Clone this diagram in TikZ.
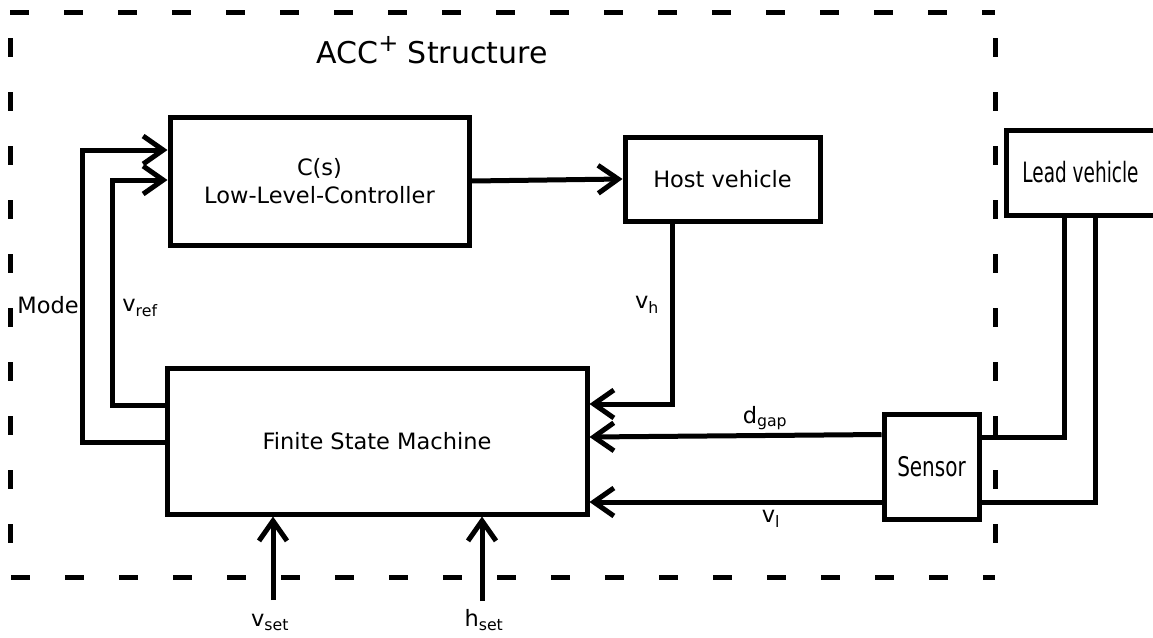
\documentclass[tikz,border=0pt]{standalone}
\usepackage{fontspec}
\setmainfont{DejaVu Sans}
\newfontfamily\leadfont[FakeStretch=0.66]{DejaVu Sans}
\newfontfamily\sensorfont[FakeStretch=0.74]{DejaVu Sans}
\usetikzlibrary{arrows.meta,positioning,calc}
\tikzset{
    % Base block style
    blocknode/.style={
        draw=black,
        fill=white,
        line width=5pt,
        inner sep=0pt,
        align=center,
        font=\fontsize{22.5}{28}\selectfont
    },
    % Blocks outside the structure (narrow lettering)
    leadnode/.style={
        blocknode,
        font=\leadfont\fontsize{28}{30}\selectfont
    },
    sensornode/.style={
        blocknode,
        font=\sensorfont\fontsize{27}{30}\selectfont
    },
    % Signal labels
    siglabel/.style={
        inner sep=1pt,
        font=\fontsize{22.5}{28}\selectfont
    },
    % Signal arrow
    sigarrow/.style={
        -{Straight Barb[length=20pt,width=28pt,line cap=butt,line join=miter]},
        line width=5pt,
        draw=black
    },
    % Plain wire
    wire/.style={
        line width=5pt,
        draw=black
    },
    % Dashed frame
    framebox/.style={
        line width=5pt,
        dash pattern=on 19pt off 35pt
    }
}
\begin{document}
\begin{tikzpicture}[x=1pt,y=-1pt]
        \useasboundingbox (0,0) rectangle (1153,637);

        % Structure frame
        \draw[framebox] (10,12) -- (995,12) (10,38) -- (10,577) -- (995,577) (995,38) -- (995,577);
        \node[font=\fontsize{30}{34}\selectfont] (title) at (432,50) {ACC\raisebox{0.42em}{\fontsize{24}{24}\selectfont+} Structure};

        % Blocks
        \node[blocknode, minimum width=299pt, minimum height=128pt] (llc) at (319.5,181) {C(s)\\Low-Level-Controller};
        \node[blocknode, minimum width=195pt, minimum height=84pt] (host) at (722.5,179) {Host vehicle};
        \node[blocknode, minimum width=420pt, minimum height=146pt] (fsm) at (377,441) {Finite State Machine};
        \node[sensornode, minimum width=95pt, minimum height=105pt] (sensor) at (931.5,466.5) {Sensor};
        \node[leadnode, minimum width=149pt, minimum height=85pt] (lead) at (1080.5,172.5) {Lead vehicle};

        % Controller to vehicle
        \draw[sigarrow] (llc.east) -- (host.west);

        % Feedback to the state machine
        \draw[sigarrow] ([xshift=-50pt]host.south) |- ([yshift=37pt]fsm.east);
        \draw[sigarrow] ([yshift=32pt]sensor.west) -- ([yshift=4pt]fsm.east);
        \draw[sigarrow] ([yshift=-35.5pt]sensor.west) -- ([yshift=-61pt]fsm.east);

        % State machine outputs
        \draw[sigarrow] ([yshift=-1pt]fsm.west) -- ++(-82,0) |- ([yshift=31pt]llc.west);
        \draw[sigarrow] ([yshift=36pt]fsm.west) -- ++(-52,0) |- ([yshift=1pt]llc.west);

        % Lead vehicle to sensor
        \draw[wire] ([xshift=-16.5pt]lead.south) |- ([yshift=29.5pt]sensor.east);
        \draw[wire] ([xshift=14.5pt]lead.south) |- ([yshift=-35.5pt]sensor.east);

        % Set points
        \coordinate (vsetin) at (273,600);
        \coordinate (hsetin) at (482,601);
        \draw[sigarrow] (vsetin) -- (vsetin |- fsm.south);
        \draw[sigarrow] (hsetin) -- (hsetin |- fsm.south);

        % Labels
        \node[siglabel] (mode) at (48,305) {Mode};
        \node[siglabel] (vref) at (140,308) {v\textsubscript{ref}};
        \node[siglabel] (vh) at (647,305) {v\textsubscript{h}};
        \node[siglabel] (dgap) at (765,418) {d\textsubscript{gap}};
        \node[siglabel] (vl) at (771,519) {v\textsubscript{l}};
        \node[siglabel] (vset) at (270,622) {v\textsubscript{set}};
        \node[siglabel] (hset) at (484,620) {h\textsubscript{set}};
    \end{tikzpicture}
\end{document}
